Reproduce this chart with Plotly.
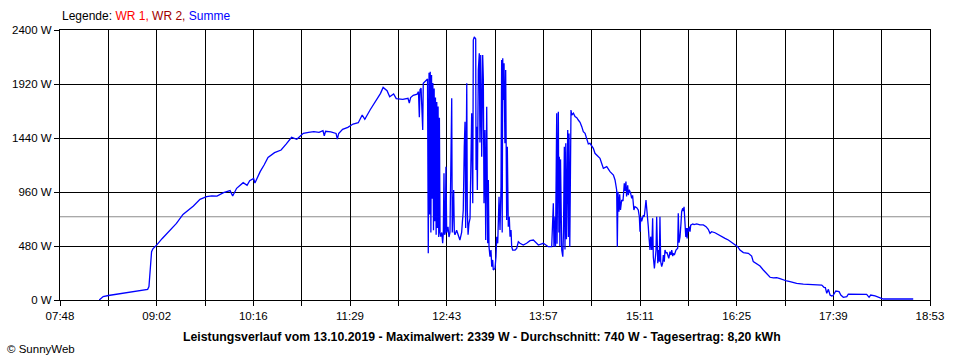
import plotly.graph_objects as go

# ---------------- data ----------------
DATE = "13.10.2019"
MAX_W = 2339
AVG_W = 740
DAY_KWH = "8,20"

TICK_LABELS = ["07:48", "09:02", "10:16", "11:29", "12:43",
               "13:57", "15:11", "16:25", "17:39", "18:53"]
Y_TICKS = [0, 480, 960, 1440, 1920, 2400]

TIMES = [
    "08:18", "08:19", "08:21", "08:25", "08:30", "08:39", "08:47", "08:55", "08:56", "08:57",
    "08:58", "08:59", "09:00", "09:02", "09:06", "09:10", "09:14", "09:17", "09:22", "09:26",
    "09:30", "09:35", "09:40", "09:44", "09:48", "09:53", "09:58", "10:00", "10:03", "10:08",
    "10:11", "10:13", "10:16", "10:17", "10:21", "10:24", "10:27", "10:32", "10:37", "10:41",
    "10:45", "10:49", "10:54", "10:58", "11:02", "11:06", "11:09", "11:10", "11:11", "11:15",
    "11:19", "11:20", "11:21", "11:24", "11:28", "11:32", "11:36", "11:39", "11:41", "11:45",
    "11:49", "11:53", "11:55", "11:58", "12:00", "12:03", "12:05", "12:10", "12:14", "12:15",
    "12:16", "12:18", "12:21", "12:22", "12:22:40", "12:23:10", "12:24", "12:25:15", "12:25:40", "12:27",
    "12:28:20", "12:28:55", "12:29:30", "12:30:05", "12:30:30", "12:31", "12:31:30", "12:32", "12:32:30", "12:33",
    "12:33:30", "12:34", "12:34:30", "12:35", "12:35:30", "12:36", "12:36:30", "12:37", "12:37:30", "12:38",
    "12:38:30", "12:39", "12:39:50", "12:40:30", "12:41", "12:41:30", "12:42", "12:42:30", "12:43", "12:43:35",
    "12:44:35", "12:45:20", "12:46:05", "12:47:25", "12:47:50", "12:48:55", "12:49:25", "12:49:55", "12:51:10", "12:52:25",
    "12:53:40", "12:55", "12:56:15", "12:57", "12:57:35", "12:58:05", "12:58:55", "12:59:20", "12:59:55", "13:00:35",
    "13:01:25", "13:02:40", "13:03:30", "13:03:55", "13:04:40", "13:05:45", "13:06", "13:06:30", "13:07", "13:07:45",
    "13:08:30", "13:09", "13:09:35", "13:10:20", "13:11:05", "13:11:35", "13:12:05", "13:12:50", "13:13:25", "13:14:10",
    "13:14:55", "13:15:25", "13:15:55", "13:16:40", "13:17:25", "13:18", "13:18:45", "13:19:10", "13:20:30", "13:21:15",
    "13:21:50", "13:22:35", "13:23:35", "13:24:20", "13:25:05", "13:25:35", "13:26", "13:26:25", "13:26:50", "13:27:25",
    "13:28:05", "13:28:40", "13:29:25", "13:29:55", "13:30:40", "13:31:25", "13:32", "13:32:45", "13:33:15", "13:34",
    "13:35:50", "13:37:05", "13:38:20", "13:39:35", "13:42:05", "13:44:40", "13:47:15", "13:49:50", "13:51:05", "13:53:40",
    "13:57:25", "14:01:15", "14:03:50", "14:05:05", "14:05:35", "14:06:25", "14:06:45", "14:07:05", "14:07:40", "14:07:55",
    "14:08:55", "14:09:20", "14:09:40", "14:10:05", "14:10:35", "14:11:30", "14:12:20", "14:12:50", "14:13:30", "14:14",
    "14:14:35", "14:15:05", "14:16:05", "14:16:35", "14:17:05", "14:17:40", "14:18:05", "14:18:35", "14:19:10", "14:20:25",
    "14:21:40", "14:23", "14:24:10", "14:25:30", "14:26:50", "14:28", "14:29:20", "14:30:35", "14:31:50", "14:33:05",
    "14:35:40", "14:36:55", "14:40:45", "14:42", "14:43:20", "14:45:55", "14:48:25", "14:51", "14:52:15", "14:53:30",
    "14:54", "14:54:30", "14:55:15", "14:55:50", "14:56:25", "14:57:20", "14:58:20", "14:59:20", "14:59:55", "15:00:35",
    "15:01:05", "15:01:55", "15:02:25", "15:03:05", "15:04:10", "15:05", "15:05:40", "15:06:40", "15:07:30", "15:08:50",
    "15:10", "15:10:50", "15:11:20", "15:11:55", "15:12:35", "15:13:55", "15:14:35", "15:15:25", "15:15:55", "15:16:30",
    "15:17:10", "15:17:40", "15:18:10", "15:19", "15:19:30", "15:20:20", "15:21", "15:21:30", "15:22:20", "15:22:50",
    "15:23:35", "15:24:05", "15:24:55", "15:25:20", "15:26:05", "15:26:35", "15:27:10", "15:27:55", "15:28:40", "15:29:10",
    "15:29:55", "15:30:25", "15:31:10", "15:32", "15:33:20", "15:33:40", "15:34:15", "15:35", "15:35:35", "15:36:20",
    "15:36:50", "15:37:35", "15:38:05", "15:38:50", "15:40:10", "15:40:35", "15:41:10", "15:41:55", "15:42:40", "15:43:10",
    "15:44", "15:44:30", "15:45", "15:45:50", "15:46:20", "15:46:50", "15:47:20", "15:47:55", "15:48:20", "15:49:05",
    "15:49:35", "15:50:05", "15:51:40", "15:52:40", "15:54:40", "15:57:10", "15:59:45", "16:01:50", "16:03:30", "16:04:50",
    "16:06:05", "16:08:40", "16:11:10", "16:13:45", "16:16:20", "16:18:50", "16:21:25", "16:23:55", "16:26", "16:27:45",
    "16:30:20", "16:34:10", "16:36:40", "16:37:55", "16:40:30", "16:43:05", "16:45:35", "16:48:10", "16:50:45", "16:53:15",
    "16:55:50", "16:58:20", "17:00:55", "17:03:30", "17:06", "17:08:30", "17:11:05", "17:16:10", "17:21:15", "17:26:25",
    "17:30:15", "17:32", "17:33", "17:34:05", "17:35:20", "17:36:35", "17:37:55", "17:38:55", "17:41", "17:43:30",
    "17:44:50", "17:46:45", "17:49:25", "17:50:35", "17:54:25", "17:59:30", "18:04:35", "18:06:25", "18:07:40", "18:11",
    "18:14:15", "18:16:05", "18:17:20", "18:40:10",
]

SUM_W = [
    0, 10, 30, 40, 50, 65, 80, 95, 120, 270,
    430, 455, 470, 490, 545, 593, 640, 681, 761, 800,
    835, 895, 918, 925, 924, 954, 972, 924, 993, 1043,
    1019, 1060, 1081, 1040, 1141, 1200, 1268, 1310, 1333, 1387,
    1446, 1428, 1481, 1490, 1496, 1490, 1505, 1460, 1500, 1495,
    1481, 1430, 1480, 1517, 1535, 1564, 1576, 1644, 1606, 1689,
    1763, 1837, 1890, 1861, 1807, 1831, 1790, 1784, 1793, 1750,
    1800, 1820, 1830, 1852, 1624, 1870, 1882, 1511, 1926, 1940,
    1961, 1965, 415, 2020, 760, 2030, 600, 2000, 900, 1930,
    620, 1880, 700, 1800, 580, 1760, 640, 1720, 560, 1620,
    600, 563, 600, 504, 593, 1126, 580, 600, 1185, 600,
    650, 560, 600, 1793, 600, 978, 600, 580, 620, 563,
    533, 600, 800, 1363, 1585, 640, 1926, 800, 580, 680,
    726, 1659, 859, 2311, 2339, 2320, 1156, 1541, 978, 2044,
    2193, 1400, 2177, 1274, 2177, 1970, 859, 1511, 533, 1718,
    504, 1067, 474, 385, 444, 296, 356, 267, 281, 385,
    563, 504, 918, 622, 1007, 2133, 600, 2148, 1778, 2104,
    1393, 2044, 711, 1363, 652, 740, 563, 622, 474, 444,
    444, 459, 518, 504, 489, 504, 527, 533, 518, 489,
    504, 474, 474, 859, 474, 740, 474, 1304, 1659, 500,
    1674, 600, 1274, 480, 1250, 444, 385, 600, 1363, 450,
    1393, 540, 1511, 560, 1480, 474, 1659, 1689, 1644, 1660,
    1630, 1620, 1600, 1580, 1541, 1496, 1481, 1422, 1387, 1393,
    1348, 1304, 1259, 1215, 1170, 1185, 1141, 1111, 1067, 978,
    474, 963, 785, 940, 800, 889, 880, 1037, 970, 1052,
    920, 1020, 933, 980, 950, 904, 930, 800, 830, 820,
    800, 740, 607, 740, 700, 755, 740, 829, 889, 810,
    740, 652, 563, 444, 563, 444, 726, 385, 281, 330,
    444, 740, 326, 444, 340, 740, 340, 296, 330, 400,
    340, 444, 420, 420, 370, 390, 430, 400, 444, 390,
    415, 400, 430, 444, 460, 770, 510, 560, 681, 785,
    815, 790, 829, 711, 560, 640, 548, 640, 607, 652,
    607, 665, 676, 670, 676, 667, 667, 652, 628, 593,
    607, 598, 584, 569, 548, 533, 510, 489, 474, 444,
    421, 415, 391, 341, 320, 302, 267, 237, 202, 196,
    198, 190, 178, 169, 163, 154, 148, 142, 139, 136,
    133, 113, 110, 59, 95, 44, 36, 40, 80, 74,
    44, 24, 30, 53, 53, 53, 50, 24, 44, 36,
    24, 15, 9, 9,
]

assert len(TIMES) == len(SUM_W)


def to_min(s):
    p = [int(v) for v in s.split(":")]
    return p[0] * 60 + p[1] + (p[2] / 60.0 if len(p) > 2 else 0.0)


x_vals = [to_min(t) for t in TIMES]
x0 = to_min(TICK_LABELS[0])
x1 = to_min(TICK_LABELS[-1])

# labelled ticks plus an unlabelled grid line between each pair
n_int = (len(TICK_LABELS) - 1) * 2
tickvals = [x0 + (x1 - x0) * i / n_int for i in range(n_int + 1)]
ticktext = [TICK_LABELS[i // 2] if i % 2 == 0 else "" for i in range(n_int + 1)]

FONT = "Liberation Sans, Arial, sans-serif"

fig = go.Figure()
fig.add_trace(go.Scatter(
    x=x_vals, y=SUM_W, mode="lines",
    line=dict(color="#0000ff", width=1.3),
    hoverinfo="skip", showlegend=False,
))

fig.add_shape(type="line", xref="paper", x0=0, x1=1, yref="y", y0=AVG_W, y1=AVG_W,
              line=dict(color="#8c8c8c", width=1), layer="between")

axis_common = dict(
    showgrid=True, gridcolor="#000000", gridwidth=1,
    ticks="outside", ticklen=5, tickcolor="#000000", tickwidth=1,
    showline=True, linecolor="#000000", linewidth=1, mirror=True,
    zeroline=False,
)

fig.update_xaxes(range=[x0, x1], tickmode="array", tickvals=tickvals, ticktext=ticktext,
                 tickfont=dict(family=FONT, size=11.5, color="#000000"), **axis_common)
fig.update_yaxes(range=[0, Y_TICKS[-1]], tickmode="array", tickvals=Y_TICKS,
                 ticktext=[f"{v} W" for v in Y_TICKS],
                 tickfont=dict(family=FONT, size=11.5, color="#000000"), **axis_common)

fig.add_annotation(
    xref="paper", yref="paper", x=0, y=1.05, xanchor="left", yanchor="middle",
    showarrow=False, font=dict(family=FONT, size=12, color="#000000"),
    text=("Legende: <span style='color:#ff0000'>WR 1, </span>"
          "<span style='color:#a00000'>WR 2, </span>"
          "<span style='color:#0000ff'>Summe</span>"),
)
fig.add_annotation(
    xref="paper", yref="paper", x=0.485, y=-0.137, xanchor="center", yanchor="middle",
    showarrow=False, font=dict(family=FONT, size=12.3, color="#000000"),
    text=(f"<b>Leistungsverlauf vom {DATE} - Maximalwert: {MAX_W} W - "
          f"Durchschnitt: {AVG_W} W - Tagesertrag: {DAY_KWH} kWh</b>"),
)
fig.add_annotation(
    xref="paper", yref="paper", x=-0.0632, y=-0.181, xanchor="left", yanchor="middle",
    showarrow=False, font=dict(family=FONT, size=11.5, color="#000000"),
    text="© SunnyWeb",
)

fig.update_layout(
    width=960, height=360,
    margin=dict(l=60, r=30, t=30, b=60),
    paper_bgcolor="#ffffff", plot_bgcolor="#ffffff",
    showlegend=False,
    font=dict(family=FONT, size=11, color="#000000"),
)

fig.write_html(
    "out.html",
    config={"displayModeBar": False},
    post_script="document.body.style.margin='0';document.body.style.overflow='hidden';",
)
